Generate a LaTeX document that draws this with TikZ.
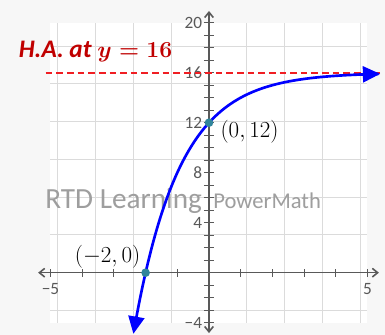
\documentclass[tikz,border=0pt]{standalone}
\usepackage{amsmath,amssymb}
\usepackage{fontspec}
\setsansfont{Carlito}
\usepackage{xcolor}
\usepackage{tikz}
\usetikzlibrary{arrows.meta,positioning}
\definecolor{haRed}{RGB}{192,0,0}
\definecolor{dashRed}{RGB}{240,30,35}
\definecolor{ptTeal}{RGB}{49,133,155}
\definecolor{axGray}{RGB}{89,89,89}
\definecolor{bgGray}{RGB}{247,247,247}

\begin{document}
\begin{tikzpicture}[x=0.8387cm, y=0.3307cm,
  ticklbl/.style={font=\sffamily\fontsize{13}{14}\selectfont, text=axGray, inner sep=1pt},
  dotpt/.style={circle, fill=ptTeal, inner sep=0pt, minimum size=6.5pt},
  ptlbl/.style={font=\fontsize{17.5}{20}\selectfont, inner sep=0pt},
  wmark/.style={font=\sffamily, text=black!38, inner sep=0pt, anchor=base west},
  axarrow/.style={axGray, line width=1.2pt,
    {Straight Barb[length=4pt,width=6.5pt]}-{Straight Barb[length=4pt,width=6.5pt]}}]
  \useasboundingbox[fill=bgGray] (-6.593,-4.984) rectangle (5.552,21.816);
  \fill[white] (-5,-4) rectangle (5,20);
  \draw[black!14, line width=0.6pt] (-5,-4) grid (5,20);

  % axes with ticks
  \draw[axarrow] (-5.39,0) -- (5.36,0);
  \draw[axarrow] (0,-4.83) -- (0,20.94);
  \foreach \x in {-5,...,5}
    \draw[axGray, line width=0.8pt] (\x,-0.32) -- (\x,0.32);
  \foreach \y in {-4,...,20}
    \draw[axGray, line width=0.8pt] (-0.16,\y) -- (0.16,\y);
  \foreach \y in {4,8,12,16,20}
    \node[ticklbl, anchor=east] at (-0.17,\y) {\y};
  \node[ticklbl, anchor=east] at (-0.17,-4) {−4};
  \node[ticklbl, anchor=north] at (-5,-0.75) {−5};
  \node[ticklbl, anchor=north] at (5,-0.75) {5};

  % watermark
  \node[wmark, font=\sffamily\fontsize{22}{24}\selectfont] (wmA) at (-5.17,5.1) {RTD Learning};
  \node[wmark, font=\sffamily\fontsize{17}{19}\selectfont] (wmB) at (0.13,5.14) {PowerMath};

  % horizontal asymptote
  \draw[dashRed, line width=1.4pt, dash pattern=on 5pt off 3pt] (-5.15,16) -- (5.4,16);
  \node[font=\sffamily\bfseries\itshape\fontsize{19}{22}\selectfont, text=haRed, inner sep=0pt]
    (ha) at (-3.58,17.66) {H.A. at $\boldsymbol{y=16}$};

  % f(x) = 16 - 4 (1/2)^x
  \draw[blue, line width=2pt, domain=-2.385:5.4, samples=120, smooth,
    {Triangle[length=13pt,width=12pt]}-{Triangle[length=13pt,width=12pt]}]
    plot (\x,{16-4*pow(2,-\x)});

  \node[dotpt] (pA) at (0,12) {};
  \node[dotpt] (pB) at (-2,0) {};
  \node[ptlbl] (lA) at (1.28,11.26) {$(0,12)$};
  \node[ptlbl] (lB) at (-3.2,1.26) {$(-2,0)$};
\end{tikzpicture}
\end{document}
